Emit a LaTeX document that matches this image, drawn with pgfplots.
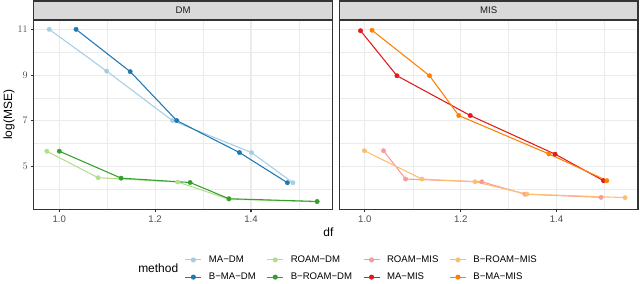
\documentclass[border=0pt]{standalone}
\usepackage{pgfplots}
\pgfplotsset{compat=1.18}
\usepackage{pgfplotstable}
\usepackage{fontspec}
\setmainfont{Liberation Sans}

\definecolor{cMADM}{HTML}{A6CEE3}
\definecolor{cBMADM}{HTML}{1F78B4}
\definecolor{cROAMDM}{HTML}{B2DF8A}
\definecolor{cBROAMDM}{HTML}{33A02C}
\definecolor{cROAMMIS}{HTML}{FB9A99}
\definecolor{cMAMIS}{HTML}{E31A1C}
\definecolor{cBROAMMIS}{HTML}{FDBF6F}
\definecolor{cBMAMIS}{HTML}{FF7F00}
\definecolor{grey92}{HTML}{EBEBEB}
\definecolor{grey85}{HTML}{D9D9D9}
\definecolor{grey20}{HTML}{333333}
\definecolor{grey30}{HTML}{4D4D4D}
\definecolor{grey10}{HTML}{1A1A1A}

% DM panel
\pgfplotstableread{
x y
0.979 11.00
1.099 9.17
1.236 7.01
1.401 5.61
1.4875 4.29
}\tMADM
\pgfplotstableread{
x y
1.035 11.00
1.148 9.15
1.245 7.01
1.376 5.61
1.476 4.29
}\tBMADM
\pgfplotstableread{
x y
0.974 5.67
1.081 4.51
1.247 4.32
1.354 3.57
1.538 3.46
}\tROAMDM
\pgfplotstableread{
x y
1.000 5.67
1.129 4.49
1.273 4.30
1.354 3.59
1.538 3.47
}\tBROAMDM
% MIS panel
\pgfplotstableread{
x y
1.039 5.69
1.085 4.45
1.244 4.33
1.334 3.79
1.493 3.65
}\tROAMMIS
\pgfplotstableread{
x y
0.991 10.94
1.067 8.97
1.220 7.23
1.397 5.54
1.498 4.38
}\tMAMIS
\pgfplotstableread{
x y
0.999 5.69
1.119 4.45
1.230 4.33
1.338 3.79
1.543 3.64
}\tBROAMMIS
\pgfplotstableread{
x y
1.015 10.96
1.135 8.97
1.196 7.23
1.384 5.55
1.505 4.38
}\tBMAMIS

\tikzset{stripbox/.style={fill=grey85, draw=grey20, line width=1.07pt}}
\newcommand\smallfont{\fontsize{9.6}{11}\selectfont}
\newcommand\bigfont{\fontsize{12}{14}\selectfont}

\pgfplotsset{
  panel/.style={
    width=299pt, height=190pt, scale only axis,
    xmin=0.947, xmax=1.570, ymin=3.11, ymax=11.41,
    xtick={1.0,1.2,1.4}, xticklabels={1.0,1.2,1.4},
    minor xtick={0.9,1.1,1.3,1.5},
    ytick={5,7,9,11}, minor ytick={4,6,8,10},
    grid=both,
    major grid style={color=grey92, line width=1.07pt},
    minor grid style={color=grey92, line width=0.53pt},
    minor tick length=0pt,
    major tick length=2.75pt,
    tick align=outside,
    xtick pos=bottom, ytick pos=left,
    tick style={color=grey20, line width=1.07pt},
    axis line style={draw=grey20, line width=1.07pt},
    ticklabel style={font=\smallfont, text=grey30},
    clip=false,
    anchor=south west,
  },
  lnsty/.style={line width=1.07pt, mark=none, forget plot},
  ptsty/.style={only marks, mark=*, mark size=2.2pt, forget plot},
}

\begin{document}
\begin{tikzpicture}
\path (0pt,0pt) rectangle (640pt,282pt);

\begin{axis}[panel, at={(33pt,72pt)},
  legend columns=4,
  legend cell align=left,
  legend style={at={(0.5050,-0.2316)}, anchor=north west, draw=none, fill=none,
    inner sep=0pt, font=\smallfont, row sep=5pt,
    /tikz/every odd column/.append style={column sep=5pt},
    /tikz/every even column/.append style={column sep=9pt}},
  legend image code/.code={\draw[mark repeat=2,mark phase=2,#1] plot coordinates {(0pt,0pt)(8pt,0pt)(16pt,0pt)};},
]
\addplot[lnsty, color=cMADM] table {\tMADM};
\addplot[lnsty, color=cBMADM] table {\tBMADM};
\addplot[lnsty, color=cROAMDM] table {\tROAMDM};
\addplot[lnsty, color=cBROAMDM] table {\tBROAMDM};
\addplot[ptsty, color=cMADM] table {\tMADM};
\addplot[ptsty, color=cBMADM] table {\tBMADM};
\addplot[ptsty, color=cROAMDM] table {\tROAMDM};
\addplot[ptsty, color=cBROAMDM] table {\tBROAMDM};

\addlegendimage{color=cMADM, line width=1.07pt, mark=*, mark size=2pt}
\addlegendentry{MA−DM}
\addlegendimage{color=cROAMDM, line width=1.07pt, mark=*, mark size=2pt}
\addlegendentry{ROAM−DM}
\addlegendimage{color=cROAMMIS, line width=1.07pt, mark=*, mark size=2pt}
\addlegendentry{ROAM−MIS}
\addlegendimage{color=cBROAMMIS, line width=1.07pt, mark=*, mark size=2pt}
\addlegendentry{B−ROAM−MIS}
\addlegendimage{color=cBMADM, line width=1.07pt, mark=*, mark size=2pt}
\addlegendentry{B−MA−DM}
\addlegendimage{color=cBROAMDM, line width=1.07pt, mark=*, mark size=2pt}
\addlegendentry{B−ROAM−DM}
\addlegendimage{color=cMAMIS, line width=1.07pt, mark=*, mark size=2pt}
\addlegendentry{MA−MIS}
\addlegendimage{color=cBMAMIS, line width=1.07pt, mark=*, mark size=2pt}
\addlegendentry{B−MA−MIS}

\draw[stripbox] (rel axis cs:0,1) rectangle ([yshift=19pt]rel axis cs:1,1);
\node[font=\smallfont, text=grey10] at ([yshift=9.5pt]rel axis cs:0.5,1) {DM};
\end{axis}

\begin{axis}[panel, at={(339pt,72pt)}, yticklabels={}, y tick style={draw=none}]
\addplot[lnsty, color=cROAMMIS] table {\tROAMMIS};
\addplot[lnsty, color=cMAMIS] table {\tMAMIS};
\addplot[lnsty, color=cBROAMMIS] table {\tBROAMMIS};
\addplot[lnsty, color=cBMAMIS] table {\tBMAMIS};
\addplot[ptsty, color=cROAMMIS] table {\tROAMMIS};
\addplot[ptsty, color=cMAMIS] table {\tMAMIS};
\addplot[ptsty, color=cBROAMMIS] table {\tBROAMMIS};
\addplot[ptsty, color=cBMAMIS] table {\tBMAMIS};

\draw[stripbox] (rel axis cs:0,1) rectangle ([yshift=19pt]rel axis cs:1,1);
\node[font=\smallfont, text=grey10] at ([yshift=9.5pt]rel axis cs:0.5,1) {MIS};
\end{axis}

\node[rotate=90, font=\bigfont] at (8pt,167pt) {log(MSE)};
\node[font=\bigfont] at (328pt,49pt) {df};
\node[anchor=west, font=\bigfont] at (134pt,13pt) {method};
\end{tikzpicture}
\end{document}
